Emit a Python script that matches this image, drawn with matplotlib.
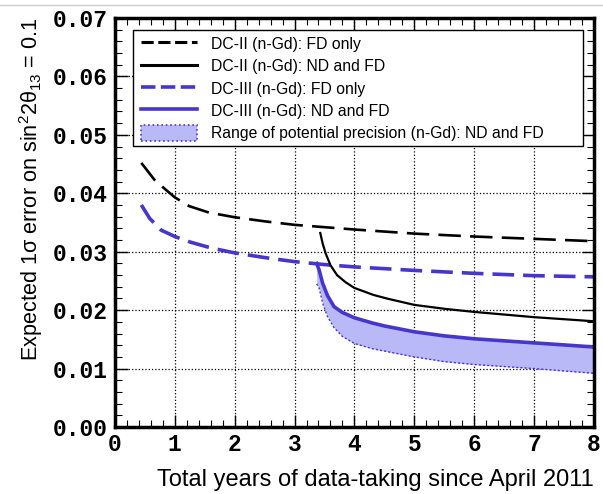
import matplotlib
matplotlib.use('Agg')
import matplotlib.pyplot as plt
from matplotlib.lines import Line2D
from matplotlib.patches import Patch, Rectangle
from matplotlib.ticker import MultipleLocator
import numpy as np

plt.rcParams['mathtext.fontset'] = 'custom'
plt.rcParams['mathtext.rm'] = 'Liberation Sans'
plt.rcParams['mathtext.it'] = 'Liberation Sans'

# Curves
dc2_fd_x = [0.44, 0.66, 0.85, 1.0, 1.24, 1.57, 2.0, 2.5, 3.0, 3.5, 4.0, 5.0, 6.0, 7.0, 8.0]
dc2_fd_y = [0.0452, 0.0423, 0.0406, 0.0393, 0.0378, 0.0367, 0.0359, 0.0352, 0.0346, 0.0342,
            0.0338, 0.0331, 0.0326, 0.0322, 0.0318]

dc3_fd_x = [0.44, 0.58, 0.77, 1.0, 1.24, 1.62, 2.0, 2.5, 3.0, 3.5, 4.0, 5.0, 6.0, 7.0, 8.0]
dc3_fd_y = [0.0380, 0.0357, 0.0337, 0.0326, 0.0317, 0.0306, 0.0298, 0.0290, 0.0283, 0.0278,
            0.0274, 0.0268, 0.0263, 0.0259, 0.0257]

dc2_nd_x = [3.43, 3.47, 3.52, 3.60, 3.71, 3.85, 4.0, 4.32, 4.54, 5.0, 5.53, 6.0, 7.0, 8.0]
dc2_nd_y = [0.0332, 0.0314, 0.0297, 0.0277, 0.0260, 0.0248, 0.0238, 0.0226, 0.0220, 0.0209,
            0.0202, 0.0197, 0.0188, 0.0181]

dc3_nd_x = [3.37, 3.41, 3.47, 3.55, 3.66, 3.8, 4.0, 4.3, 4.5, 5.0, 5.5, 6.0, 7.0, 8.0]
dc3_nd_y = [0.0280, 0.0269, 0.0246, 0.0225, 0.0206, 0.0196, 0.0187, 0.0178, 0.0173, 0.0163,
            0.0156, 0.0151, 0.0144, 0.0137]
band_low_y = [0.0245, 0.0238, 0.0212, 0.0189, 0.0170, 0.0155, 0.0143, 0.0134, 0.0130, 0.0120,
              0.0112, 0.0107, 0.0100, 0.0092]

blue = '#4636cc'
fill = '#b9b9f8'

fig = plt.figure(figsize=(6.03, 4.94), dpi=100)
ax = fig.add_axes([0.1907, 0.1356, 0.794, 0.828])
ax.set_axisbelow(True)

ax.fill_between(dc3_nd_x, band_low_y, dc3_nd_y, color=fill, lw=0)
ax.plot(dc3_nd_x, band_low_y, color=blue, lw=1, ls=(0, (1.5, 1.5)))
ax.plot(dc2_fd_x, dc2_fd_y, color='black', lw=1.9, ls=(0, (8.5, 3.5)))
ax.plot(dc3_fd_x, dc3_fd_y, color=blue, lw=2.6, ls=(0, (6, 2.5)))
ax.plot(dc2_nd_x, dc2_nd_y, color='black', lw=1.6)
ax.plot(dc3_nd_x, dc3_nd_y, color=blue, lw=2.6)

ax.set_xlim(0, 8)
ax.set_ylim(0, 0.07)
ax.xaxis.set_major_locator(MultipleLocator(1))
ax.xaxis.set_minor_locator(MultipleLocator(0.2))
ax.yaxis.set_major_locator(MultipleLocator(0.01))
ax.yaxis.set_minor_locator(MultipleLocator(0.002))
ax.yaxis.set_major_formatter(plt.FuncFormatter(lambda v, p: '%.2f' % v))
ax.grid(True, which='major', color='black', ls=':', lw=0.9)
ax.tick_params(which='both', direction='in', top=True, right=True)
ax.tick_params(which='major', length=9, width=1)
ax.tick_params(which='minor', length=5, width=0.8)
ax.tick_params(axis='x', pad=4)
ax.tick_params(axis='y', pad=5)
for lab in ax.get_xticklabels() + ax.get_yticklabels():
    lab.set_fontfamily('Liberation Mono')
    lab.set_fontweight('bold')
    lab.set_fontsize(16.5)
for s in ax.spines.values():
    s.set_linewidth(2.5)

ax.set_xlabel('Total years of data-taking since April 2011', fontsize=17,
              family='Liberation Sans', labelpad=10, loc='right')
ax.set_ylabel(r'Expected 1$\sigma$ error on sin$^2$2$\theta_{13}$ = 0.1', fontsize=15.6,
              family='Liberation Sans', labelpad=6, loc='top')

# legend frame drawn by hand so it can be as wide as in the original
ax.add_patch(Rectangle((0.0376, 0.687), 0.939, 0.284, transform=ax.transAxes,
                       facecolor='white', edgecolor='black', lw=1, zorder=4.9))

handles = [
    Line2D([], [], color='black', lw=2.2, ls=(0, (4, 1.5))),
    Line2D([], [], color='black', lw=2.2),
    Line2D([], [], color=blue, lw=2.6, ls=(0, (4, 1.5))),
    Line2D([], [], color=blue, lw=2.6),
    Patch(facecolor=fill, edgecolor=blue, ls=':', lw=1.2),
]
labels = ['DC-II (n-Gd): FD only', 'DC-II (n-Gd): ND and FD',
          'DC-III (n-Gd): FD only', 'DC-III (n-Gd): ND and FD',
          'Range of potential precision (n-Gd): ND and FD']
leg = ax.legend(handles, labels, loc='upper left', bbox_to_anchor=(0.0376, 0.976),
                borderaxespad=0, frameon=False, handlelength=3.6, handleheight=1.2,
                prop={'family': 'Liberation Sans', 'size': 11.3},
                borderpad=0.5, labelspacing=0.38, handletextpad=0.9)

fig.add_artist(Line2D([0, 1], [0.99, 0.99], color='#cccccc', lw=1))

fig.savefig('out.png', dpi=100)
